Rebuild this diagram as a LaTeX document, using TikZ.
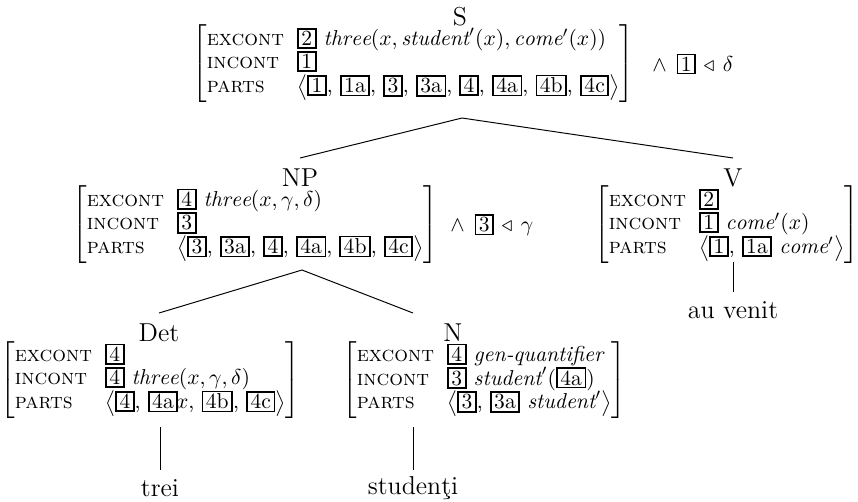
\documentclass[tikz,border=0pt]{standalone}
\usepackage{fontspec}
\setlength\fboxsep{0.7pt}
\setlength\fboxrule{0.8pt}
\renewcommand\arraystretch{0.72}
\newcommand\tg[1]{\fbox{\kern0.5pt#1\kern0.5pt}}
\newcommand\ftr[1]{\textsc{#1}}
\newcommand\avmbox[1]{$\left[\begin{tabular}{@{}l@{\hspace{6pt}}l@{}}#1\end{tabular}\right]$}
\newcommand\lst[1]{$\left\langle\mbox{#1}\right\rangle$}
\newcommand\conj[2]{$\wedge$\hspace{4.5pt}\tg{#1}\hspace{3.5pt}$\triangleleft$\hspace{4pt}$#2$}
\tikzset{
  avmnode/.style={inner sep=0pt, anchor=west},
  catnode/.style={inner sep=0pt, font=\large},
  leafnode/.style={inner sep=0pt, font=\large},
  branch/.style={line width=0.45pt}
}
\begin{document}
\begin{tikzpicture}[x=0.463pt,y=-0.463pt]
\useasboundingbox (0,0) rectangle (858,501);
% category labels
\node[catnode] (S) at (460,17) {S};
\node[catnode] (NP) at (300,178) {NP};
\node[catnode] (V) at (733,178) {V};
\node[catnode] (Det) at (159,333) {Det};
\node[catnode] (N) at (453,333) {N};
% AVMs
\node[avmnode] (avmS) at (192,64) {\avmbox{
 \ftr{excont} & \tg{2} $\mathit{three}(x,\mathit{student}'(x),\mathit{come}'(x))$\\
 \ftr{incont} & \tg{1}\\
 \ftr{parts} & \lst{\tg{1}, \tg{1a}, \tg{3}, \tg{3a}, \tg{4}, \tg{4a}, \tg{4b}, \tg{4c}}}};
\node[avmnode] (conS) at (652,64) {\conj{1}{\delta}};
\node[avmnode] (avmNP) at (72,225) {\avmbox{
 \ftr{excont} & \tg{4} $\mathit{three}(x,\gamma,\delta)$\\
 \ftr{incont} & \tg{3}\\
 \ftr{parts} & \lst{\tg{3}, \tg{3a}, \tg{4}, \tg{4a}, \tg{4b}, \tg{4c}}}};
\node[avmnode] (conNP) at (450,225) {\conj{3}{\gamma}};
\node[avmnode] (avmV) at (594,225) {\avmbox{
 \ftr{excont} & \tg{2}\\
 \ftr{incont} & \tg{1} $\mathit{come}'(x)$\\
 \ftr{parts} & \lst{\tg{1}, \tg{1a} $\mathit{come}'$}}};
\node[avmnode] (avmDet) at (0,380) {\avmbox{
 \ftr{excont} & \tg{4}\\
 \ftr{incont} & \tg{4} $\mathit{three}(x,\gamma,\delta)$\\
 \ftr{parts} & \lst{\tg{4}, \tg{4a}\kern-1pt$x$, \tg{4b}, \tg{4c}}}};
\node[avmnode] (avmN) at (342,380) {\avmbox{
 \ftr{excont} & \tg{4} \textit{gen-quantifier}\\
 \ftr{incont} & \tg{3} $\mathit{student}'$(\tg{4a})\\
 \ftr{parts} & \lst{\tg{3}, \tg{3a} $\mathit{student}'$}}};
% leaves
\node[leafnode] (trei) at (160,488) {trei};
\node[leafnode] (stud) at (413,488) {studenţi};
\node[leafnode] (auv) at (733,310) {au venit};
% branch points
\coordinate (apS) at (462,118);
\coordinate (apNP) at (302,270);
\coordinate (endNP) at (300,158);
\coordinate (endV) at (733,158);
\coordinate (endDet) at (159,313);
\coordinate (endN) at (413,313);
\coordinate (lfDetT) at (160,427);
\coordinate (lfDetB) at (160,470);
\coordinate (lfNT) at (413,427);
\coordinate (lfNB) at (413,470);
\coordinate (lfVT) at (733,262);
\coordinate (lfVB) at (733,292);
\draw[branch] (endNP) -- (apS) -- (endV);
\draw[branch] (endDet) -- (apNP) -- (endN);
\draw[branch] (lfDetT) -- (lfDetB);
\draw[branch] (lfNT) -- (lfNB);
\draw[branch] (lfVT) -- (lfVB);
\end{tikzpicture}
\end{document}
